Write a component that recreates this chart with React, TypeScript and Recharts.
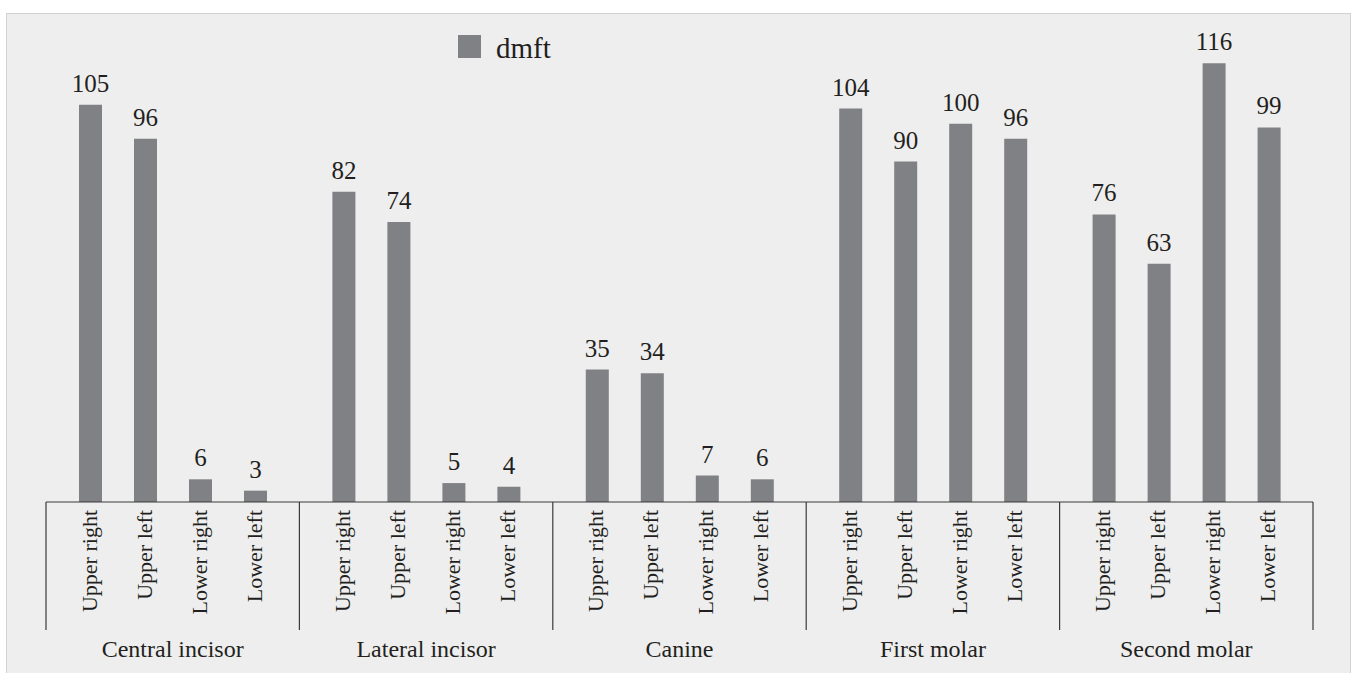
import { BarChart, Bar, XAxis, YAxis, Legend, LabelList } from 'recharts';

const groups = ['Central incisor', 'Lateral incisor', 'Canine', 'First molar', 'Second molar'];
const positions = ['Upper right', 'Upper left', 'Lower right', 'Lower left'];
const upperRight = [105, 82, 35, 104, 76];
const upperLeft = [96, 74, 34, 90, 63];
const lowerRight = [6, 5, 7, 100, 116];
const lowerLeft = [3, 4, 6, 96, 99];
const seriesValues = [upperRight, upperLeft, lowerRight, lowerLeft];

const data = groups.map((group, i) => {
  const row: Record<string, any> = { group };
  seriesValues.forEach((vals, s) => {
    row[`s${s}`] = vals[i];
  });
  return row;
});

const CHART_W = 1353;
const CHART_H = 673;
const MARGIN = { top: 48, right: 40, bottom: 21, left: 46 };
const X_AXIS_H = 150;
const AXIS_Y = CHART_H - MARGIN.bottom - X_AXIS_H;
const GROUP_W = (CHART_W - MARGIN.left - MARGIN.right) / groups.length;

const BAR = '#808184';
const TEXT = '#231f20';
const LINE = '#3a3a3a';
const FONT = 'Liberation Serif, DejaVu Serif, serif';

const makeBarLabel = (name: string) => (props: any) => {
  const { x, y, width, height, value } = props;
  const cx = Number(x) + Number(width) / 2;
  const base = Number(y) + Number(height);
  const lx = cx + 6;
  const ly = base + 8;
  return (
    <g>
      <text x={cx} y={Number(y) - 13} textAnchor="middle" fill={TEXT} style={{ fontFamily: FONT, fontSize: 25 }}>
        {value}
      </text>
      <text
        x={lx}
        y={ly}
        transform={`rotate(-90, ${lx}, ${ly})`}
        textAnchor="end"
        fill={TEXT}
        style={{ fontFamily: FONT, fontSize: 22 }}
      >
        {name}
      </text>
    </g>
  );
};

const GroupTick = (props: any) => {
  const { x, payload, index } = props;
  const left = x - GROUP_W / 2;
  const right = x + GROUP_W / 2;
  return (
    <g>
      <line x1={left} y1={AXIS_Y} x2={left} y2={AXIS_Y + 128} stroke={LINE} strokeWidth={1.2} />
      {index === groups.length - 1 && (
        <line x1={right} y1={AXIS_Y} x2={right} y2={AXIS_Y + 128} stroke={LINE} strokeWidth={1.2} />
      )}
      <text x={x} y={AXIS_Y + 155} textAnchor="middle" fill={TEXT} style={{ fontFamily: FONT, fontSize: 24 }}>
        {payload.value}
      </text>
    </g>
  );
};

const renderLegend = () => (
  <div style={{ display: 'flex', alignItems: 'flex-start', fontFamily: FONT }}>
    <span style={{ display: 'inline-block', width: 23, height: 23, background: BAR, marginTop: 3 }} />
    <span style={{ marginLeft: 15, fontSize: 29, color: TEXT, lineHeight: 'normal' }}>dmft</span>
  </div>
);

export default function App() {
  return (
    <div style={{ position: 'relative', width: CHART_W, height: CHART_H, fontFamily: FONT }}>
      <style>{'body{margin:0}'}</style>
      <div
        style={{
          position: 'absolute',
          left: 6,
          top: 13,
          width: 1343,
          height: 670,
          background: '#eeeeee',
          border: '1.5px solid #d2d2d2',
        }}
      />
      <div style={{ position: 'absolute', left: 0, top: 0 }}>
        <BarChart width={CHART_W} height={CHART_H} data={data} margin={MARGIN} barSize={23} barGap={32}>
          <XAxis
            dataKey="group"
            height={X_AXIS_H}
            tickLine={false}
            axisLine={{ stroke: LINE, strokeWidth: 1.2 }}
            tick={<GroupTick />}
            interval={0}
          />
          <YAxis hide domain={[0, 120]} />
          <Legend
            layout="vertical"
            align="center"
            verticalAlign="middle"
            content={renderLegend}
            wrapperStyle={{ top: 32, left: 458, width: 'auto', height: 'auto' }}
          />
          {positions.map((name, s) => (
            <Bar key={name} dataKey={`s${s}`} name={s === 0 ? 'dmft' : name} fill={BAR} isAnimationActive={false}>
              <LabelList content={makeBarLabel(name)} />
            </Bar>
          ))}
        </BarChart>
      </div>
    </div>
  );
}
